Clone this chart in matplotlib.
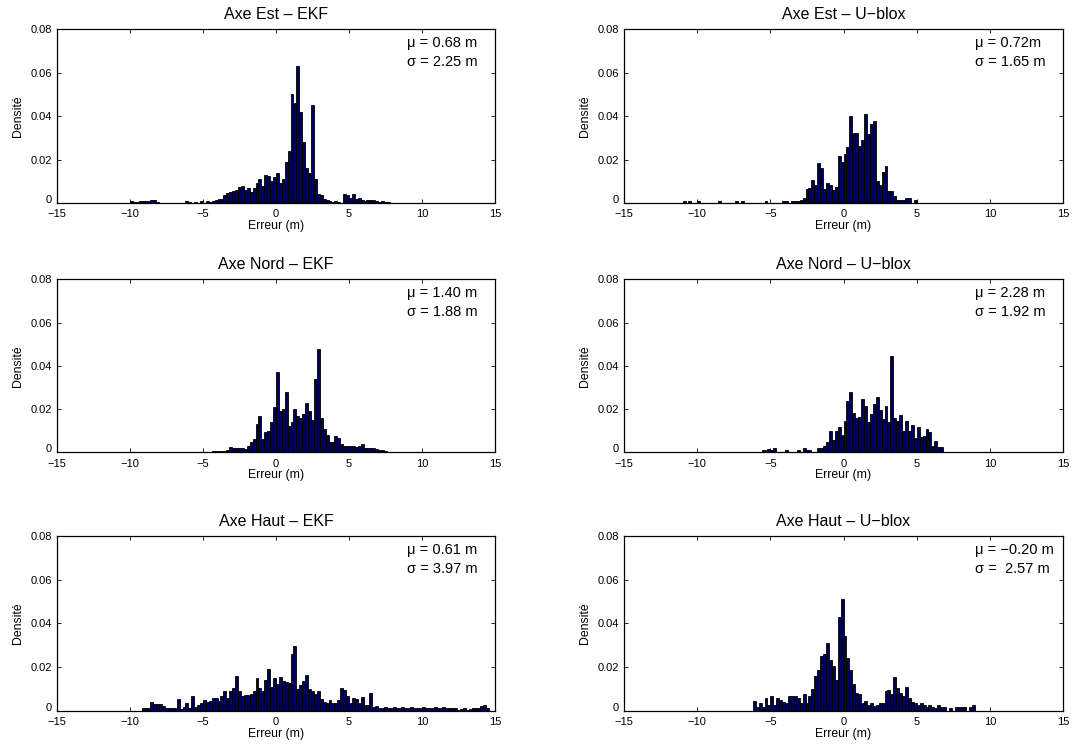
import numpy as np
import matplotlib
matplotlib.use("Agg")
import matplotlib.pyplot as plt

plt.rcParams["font.family"] = ["Liberation Sans", "DejaVu Sans"]

BIN = 0.2  # bin width (m)

# ---- data: density per bin (units of 1e-3), first bin left edge given ----
est_ekf_start = -10.0
est_ekf = [1, 0.5, 0.5, 1, 0.8, 1, 1, 1.2, 1.2, 0.5,
           0, 0, 0, 0, 0, 0, 0, 0, 0, 1,
           0.5, 0, 0.5, 0, 0.8, 0, 0.8, 0.5, 1, 1.5,
           2, 2, 3.5, 4.5, 5, 5.5, 6, 7.5, 8, 6,
           7, 5, 7, 9, 11, 8, 13, 12.5, 10, 12,
           14, 9, 11, 19, 24, 50, 46, 63, 42, 28,
           16, 14, 45, 11, 4, 3.5, 2, 1.5, 1, 0.5,
           1, 0.5, 0, 4, 3.5, 2.5, 4, 2, 2.5, 1.5,
           1, 1.5, 1.5, 1.5, 1, 0.5, 1, 0.5, 0.5]

est_ublox_start = -11.0
est_ublox = [1, 0, 1, 0, 0, 1, 0, 0, 0, 0,
             0, 0, 1, 0, 0, 0, 0, 0, 1, 0,
             1, 0, 0, 0, 0, 0, 0, 0, 1, 0,
             0, 0, 0, 0, 1, 1, 0, 1, 1, 1,
             1.5, 2.3, 6.5, 6.8, 10.8, 8.5, 18.3, 16, 6.5, 9,
             8.5, 6, 7.5, 21.4, 19, 22.6, 25.7, 39.8, 32, 32,
             26, 28.8, 40.8, 31.8, 36.5, 37.7, 10, 8.5, 14.2, 17.2,
             5.7, 5.7, 3.4, 1.4, 1.4, 1.4, 2.3, 2.3, 0, 1.5]

nord_ekf_start = -4.4
nord_ekf = [0.8, 0.8, 0.8, 0.5, 0.5, 1, 2.3, 2, 2, 2,
            2, 1.5, 3, 5, 6, 13, 17, 6, 9.5, 10,
            14, 21, 37, 19, 20, 27.7, 12, 14, 20, 17,
            15.7, 17.5, 23, 19, 15, 34, 48, 16, 11, 8,
            5, 5, 7.5, 6.5, 4, 3, 3, 3, 3, 2.5,
            3, 4, 2, 2, 2, 2, 1.5, 1, 1, 0.5]

nord_ublox_start = -5.6
nord_ublox = [1, 1, 1.5, 1, 2, 0, 0, 0, 1, 0,
              0, 0, 1, 0, 2, 1, 1, 0, 0, 2,
              2, 3, 4.6, 9.7, 5.7, 9.7, 11.8, 8, 14.6, 23.5,
              28, 18, 16, 16.5, 24.6, 21.5, 14, 17.7, 22.3, 25.7,
              19.5, 15.4, 21.5, 13.8, 44.5, 16, 14.6, 17.2, 10, 14.3,
              10, 12.8, 6.6, 11.8, 7, 7.7, 10.8, 9.2, 3, 5.4,
              2.3, 2.3]

haut_ekf_start = -9.2
haut_ekf = [1.4, 1.4, 1.4, 4.2, 3, 3, 3, 2, 1.4, 1.4,
            1.4, 1, 5.4, 0.8, 1.5, 3.4, 1, 6.5, 1.5, 2.6,
            3.7, 4.9, 4.2, 4.5, 6, 6, 4.5, 6.8, 8.8, 6,
            8.8, 10.3, 16, 9, 6.5, 7.2, 7.2, 7.5, 9.2, 15,
            10.3, 9, 14, 19, 11, 15, 12.3, 15.2, 13.4, 13,
            12.6, 26, 29.5, 10, 11.8, 13.4, 16.5, 9.8, 9.2, 7.7,
            8.8, 5.4, 4.2, 3.7, 5, 3.4, 3.5, 5, 10.3, 9.5,
            6.5, 3.7, 5.7, 5.2, 3.4, 6.2, 2.6, 2.5, 8.3, 1.5,
            2, 1.2, 1, 1.5, 1, 1.2, 1.5, 1, 1.2, 1.5,
            1, 1.2, 1.5, 1, 1.2, 1, 1.5, 1, 1.2, 1,
            1.5, 1, 1.2, 1.5, 1, 1.2, 1, 1.2, 0.5, 0.8,
            1.2, 0.5, 0.8, 1, 1.2, 1, 2, 2.6, 1]

haut_ublox_start = -6.2
haut_ublox = [4.6, 1.5, 3.4, 1.8, 5.7, 2.5, 6.8, 2.5, 5.7, 5,
              4, 3.4, 6.8, 6.8, 6.8, 6, 3.5, 7.7, 3.5, 6.8,
              9.8, 16, 18.5, 25, 26, 31, 23, 20.6, 14, 43,
              51, 34, 24, 18.5, 12, 8, 7.7, 3.4, 4.6, 2.5,
              3.4, 2, 2.5, 3.4, 3.4, 8.8, 9.5, 7.5, 15.4, 10.3,
              8.3, 6.5, 11, 5.7, 4, 3.7, 2.6, 3.4, 2.6, 1.5,
              2.6, 1.8, 1, 2.6, 1.8, 1.5, 0, 1, 0, 1.5,
              1.5, 1.5, 1.5, 0, 1.5, 2.6]

titles = ["Axe Est \u2013 EKF", "Axe Est \u2013 U\u2212blox",
          "Axe Nord \u2013 EKF", "Axe Nord \u2013 U\u2212blox",
          "Axe Haut \u2013 EKF", "Axe Haut \u2013 U\u2212blox"]
mu_labels = ["\u03bc = 0.68 m", "\u03bc = 0.72m", "\u03bc = 1.40 m",
             "\u03bc = 2.28 m", "\u03bc = 0.61 m", "\u03bc = \u22120.20 m"]
sigma_labels = ["\u03c3 = 2.25 m", "\u03c3 = 1.65 m", "\u03c3 = 1.88 m",
                "\u03c3 = 1.92 m", "\u03c3 = 3.97 m", "\u03c3 =  2.57 m"]
starts = [est_ekf_start, est_ublox_start, nord_ekf_start,
          nord_ublox_start, haut_ekf_start, haut_ublox_start]
series = [est_ekf, est_ublox, nord_ekf, nord_ublox, haut_ekf, haut_ublox]

x_ticks = [-15, -10, -5, 0, 5, 10, 15]
y_ticks = [0, 0.02, 0.04, 0.06, 0.08]
y_ticklabels = ["0", "0.02", "0.04", "0.06", "0.08"]

# ---- layout ----
fig = plt.figure(figsize=(10.75, 7.48), dpi=100)
col_x = [(0.053, 0.4074), (0.5805, 0.4084)]
row_y = [(0.7286, 0.2326), (0.3953, 0.2313), (0.0499, 0.2336)]

for i in range(6):
    r, c = divmod(i, 2)
    x0, w = col_x[c]
    y0, h = row_y[r]
    ax = fig.add_axes([x0, y0, w, h])
    vals = np.array(series[i]) * 1e-3
    edges = starts[i] + BIN * np.arange(len(vals))
    # full zero baseline across the axis (empty bins)
    all_edges = -15 + BIN * np.arange(int(round(30 / BIN)))
    ax.bar(all_edges, np.zeros_like(all_edges), width=BIN, align="edge",
           color="#00005a", edgecolor="black", linewidth=0.6)
    ax.bar(edges, vals, width=BIN, align="edge",
           color="#00005a", edgecolor="black", linewidth=0.6)
    ax.set_xlim(-15, 15)
    ax.set_ylim(0, 0.08)
    ax.set_xticks(x_ticks)
    ax.set_yticks(y_ticks)
    ax.set_yticklabels(y_ticklabels)
    ax.tick_params(direction="in", length=3, width=0.6, top=True, right=True,
                   labelsize=8)
    ax.tick_params(axis="x", pad=4.5)
    ax.tick_params(axis="y", pad=3.5)
    ax.get_yticklabels()[0].set_verticalalignment("baseline")
    for s in ax.spines.values():
        s.set_linewidth(0.9)
    ax.set_title(titles[i], fontsize=11.5, pad=7.5)
    ax.set_xlabel("Erreur (m)", fontsize=8.8, labelpad=0.5)
    ax.set_ylabel("Densit\u00e9", fontsize=8.8, labelpad=5)
    ax.text(0.80, 0.92, mu_labels[i], transform=ax.transAxes,
            fontsize=10.5, va="center", ha="left")
    ax.text(0.80, 0.81, sigma_labels[i], transform=ax.transAxes,
            fontsize=10.5, va="center", ha="left")

fig.savefig("out.png", dpi=100)
